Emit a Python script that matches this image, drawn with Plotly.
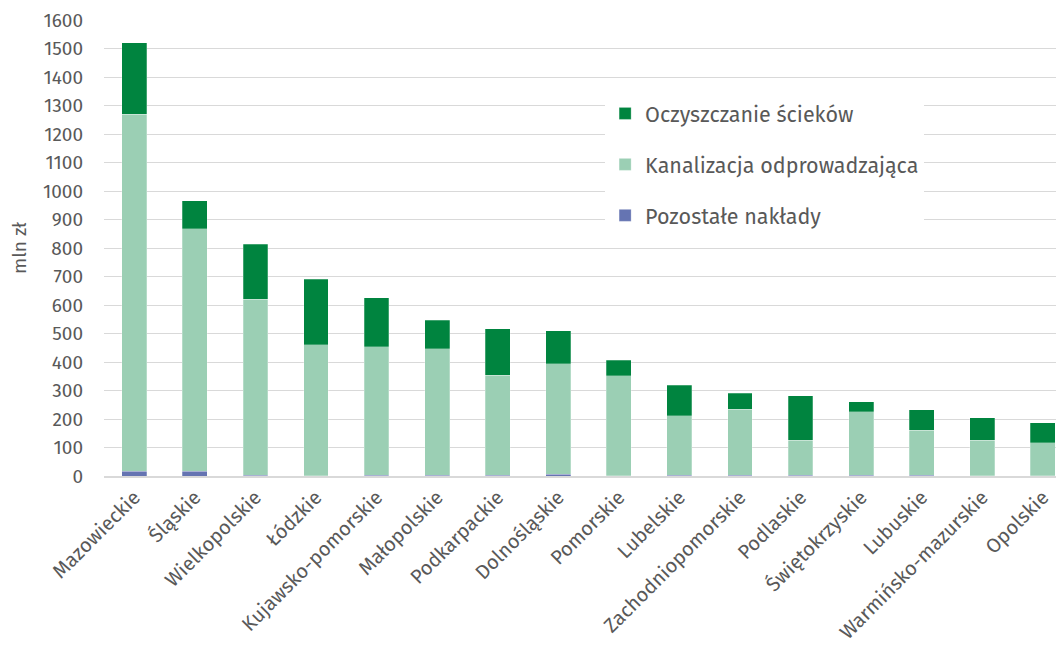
import plotly.graph_objects as go

categories = ["Mazowieckie", "Śląskie", "Wielkopolskie", "Łódzkie", "Kujawsko-pomorskie",
              "Małopolskie", "Podkarpackie", "Dolnośląskie", "Pomorskie", "Lubelskie",
              "Zachodniopomorskie", "Podlaskie", "Świętokrzyskie", "Lubuskie",
              "Warmińsko-mazurskie", "Opolskie"]
pozostale = [17, 17, 3, 1, 3, 3, 3, 6, 1, 3, 3, 3, 3, 3, 1, 1]
kanalizacja = [1253, 850, 618, 459, 450, 443, 351, 387, 350, 208, 232, 123, 222, 158, 125, 115]
oczyszczanie = [250, 98, 193, 231, 172, 101, 162, 116, 56, 108, 56, 155, 35, 71, 78, 70]
y_ticks = list(range(0, 1700, 100))

font_family = "Fira Sans, Open Sans, Noto Sans, sans-serif"
txt = "#595959"

fig = go.Figure()
series = [("Pozostałe nakłady", pozostale, "#6574b2"),
          ("Kanalizacja odprowadzająca", kanalizacja, "#9bcfb4"),
          ("Oczyszczanie ścieków", oczyszczanie, "#00843f")]
for i, (name, vals, col) in enumerate(series):
    fig.add_trace(go.Bar(x=list(range(len(categories))), y=vals, name=name,
                         marker=dict(color=col, line=dict(color="rgba(255,255,255,0.5)", width=0.5)),
                         width=0.41, legendgroup=str(i), legendrank=3 - i))

fig.update_layout(
    barmode="stack",
    width=1056, height=637,
    margin=dict(l=96, r=0, t=12, b=169),
    paper_bgcolor="white", plot_bgcolor="white",
    font=dict(family=font_family, size=19, color=txt),
    showlegend=True,
    legend=dict(x=0.522, y=0.84, xanchor="left", yanchor="top",
                bgcolor="white", traceorder="grouped", tracegroupgap=20,
                font=dict(size=21.5, color=txt), itemwidth=30),
    xaxis=dict(tickmode="array", tickvals=list(range(len(categories))), ticktext=categories,
               range=[-0.5, 15.35], tickangle=-45, showgrid=False, ticks="",
               showline=True, linecolor="#d9d9d9", linewidth=1.5, automargin=False,
               tickfont=dict(size=20, color=txt)),
    yaxis=dict(range=[0, 1600], tickvals=y_ticks, showgrid=True, gridcolor="#d9d9d9",
               gridwidth=1, zeroline=False, ticks="", ticklen=0, automargin=False,
               ticklabelstandoff=20,
               title=dict(text="mln zł", font=dict(size=19, color=txt), standoff=24),
               tickfont=dict(size=19, color=txt)),
)
fig.write_html("out.html")
